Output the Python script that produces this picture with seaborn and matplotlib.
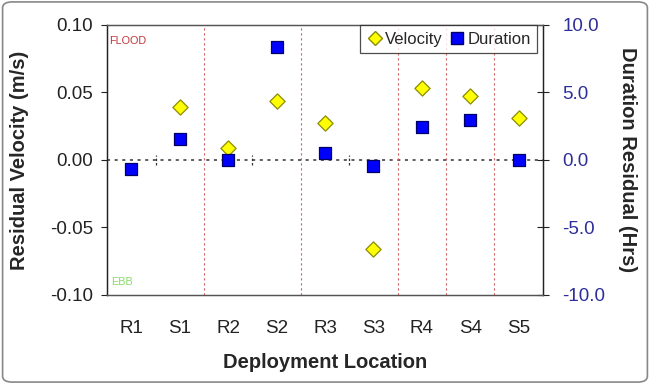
import numpy as np
import pandas as pd
import matplotlib
matplotlib.use("Agg")
import matplotlib.pyplot as plt
from matplotlib.patches import FancyBboxPatch
import seaborn as sns

locations = ["R1", "S1", "R2", "S2", "R3", "S3", "R4", "S4", "S5"]
velocity = [np.nan, 0.039, 0.009, 0.044, 0.027, -0.066, 0.053, 0.047, 0.031]
duration = [-0.7, 1.55, 0.0, 8.4, 0.5, -0.45, 2.45, 2.95, 0.0]
flood_ebb_breaks = [1.5, 3.5, 5.5, 6.5, 7.5]
pair_ticks = [0.5, 2.5, 4.5]

df = pd.DataFrame({"loc": locations, "pos": np.arange(len(locations)),
                   "velocity": velocity, "duration": duration})

sns.set_style("white")
plt.rcParams["font.family"] = ["Liberation Sans", "DejaVu Sans"]

fig = plt.figure(figsize=(6.5, 3.84), dpi=100)
ax = fig.add_axes([0.165, 0.232, 0.670, 0.703])
ax2 = ax.twinx()

# guide lines
ax.axhline(0, color="#333333", lw=1.1, ls=(0, (2, 3)), zorder=1)
for b in flood_ebb_breaks:
    ax.axvline(b, color="#d06060", lw=0.8, ls=(0, (2, 2.5)), zorder=1)
for b in pair_ticks:
    ax.plot([b, b], [-0.004, 0.004], color="#333333", lw=0.9, ls=(0, (2, 1.5)), zorder=1)

sns.scatterplot(data=df, x="pos", y="velocity", ax=ax, marker="D", s=60,
                color="#ffff00", edgecolor="#8c8c00", linewidth=0.9, zorder=3,
                legend=False)
sns.scatterplot(data=df, x="pos", y="duration", ax=ax2, marker="s", s=85,
                color="#0000ff", edgecolor="#000066", linewidth=0.9, zorder=3,
                legend=False)

ax.set_xlim(-0.5, len(locations) - 0.5)
ax.set_ylim(-0.10, 0.10)
ax2.set_ylim(-10, 10)
ax.set_xticks(df["pos"])
ax.set_xticklabels(locations)
ax.set_yticks([-0.10, -0.05, 0.0, 0.05, 0.10])
ax.set_yticklabels(["-0.10", "-0.05", "0.00", "0.05", "0.10"])
ax2.set_yticks([-10, -5, 0, 5, 10])
ax2.set_yticklabels(["-10.0", "-5.0", "0.0", "5.0", "10.0"])

ax.tick_params(axis="y", direction="out", length=4, width=0.8, labelsize=13.5,
               colors="#222222", pad=6)
ax.tick_params(axis="x", length=0, labelsize=13.5, colors="#222222", pad=18)
ax2.tick_params(axis="y", direction="inout", length=8, width=0.8, labelsize=13.5,
                labelcolor="#2e2e99", color="#222222", pad=10)

for a in (ax, ax2):
    a.spines["left"].set_color("#222222")
    a.spines["right"].set_color("#222222")
    a.spines["top"].set_color("#555555")
    a.spines["bottom"].set_color("#555555")
    for s in a.spines.values():
        s.set_linewidth(0.9)

ax.set_xlabel("Deployment Location", fontsize=14.5, fontweight="bold")
ax.set_ylabel("Residual Velocity (m/s)", fontsize=14.5, fontweight="bold")
ax2.set_ylabel("Duration Residual (Hrs)", fontsize=14.5, fontweight="bold",
               rotation=270, va="center")
ax.xaxis.set_label_coords(0.5, -0.215)
ax.yaxis.set_label_coords(-0.18, 0.5)
ax2.yaxis.set_label_coords(1.195, 0.5)

ax.text(0.005, 0.96, "FLOOD", transform=ax.transAxes, color="#c03838",
        fontsize=7.8, va="top", ha="left")
ax.text(0.008, 0.03, "EBB", transform=ax.transAxes, color="#88dd66",
        fontsize=7.8, va="bottom", ha="left")

handles = [plt.Line2D([], [], marker="D", ls="", ms=7.5, mfc="#ffff00", mec="#8c8c00"),
           plt.Line2D([], [], marker="s", ls="", ms=8.5, mfc="#0000ff", mec="#000066")]
leg = ax2.legend(handles, ["Velocity", "Duration"], loc="upper right", ncol=2,
                 frameon=True, fancybox=False, edgecolor="#222222", fontsize=12,
                 handletextpad=0.1, columnspacing=0.4, handlelength=1.0,
                 borderpad=0.38, borderaxespad=0.0, bbox_to_anchor=(0.987, 0.998))
leg.get_frame().set_linewidth(0.9)

fig.patches.append(FancyBboxPatch((0.004, 0.005), 0.992, 0.99,
                                  boxstyle="round,pad=0,rounding_size=0.015",
                                  transform=fig.transFigure, fill=False,
                                  edgecolor="#888888", lw=1.2))

fig.savefig("out.png", dpi=100, facecolor="white")
